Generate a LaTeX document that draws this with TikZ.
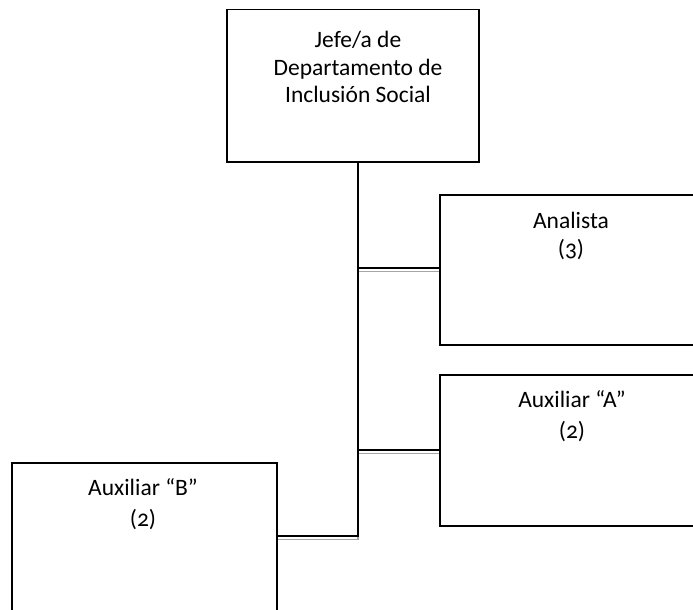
\documentclass[tikz,border=0pt]{standalone}
\usepackage{fontspec}
\setmainfont{Carlito}[Numbers=OldStyle]
\begin{document}
\begin{tikzpicture}[x=1pt,y=-1pt,
  box/.style={draw, line width=1.5pt, inner sep=0pt, anchor=north west},
  lbl/.style={align=center, inner sep=0pt, font=\fontsize{23.5}{27.5}\selectfont},
  lbltwo/.style={align=center, inner sep=0pt, font=\fontsize{23.5}{31.5}\selectfont},
  conn/.style={line width=1.5pt},
  ghost/.style={line width=1.2pt, black!35}]
\useasboundingbox (0,0) rectangle (693,610);
% boxes
\node[box, minimum width=252pt, minimum height=152pt] (jefe) at (226,9) {};
\node[box, minimum width=280pt, minimum height=150pt] (ana) at (439,194) {};
\node[box, minimum width=280pt, minimum height=151pt] (auxa) at (439,374) {};
\node[box, minimum width=265pt, minimum height=170pt] (auxb) at (11,462) {};
% texts
\node[lbl] (tjefe) at (358,67) {Jefe/a de\\Departamento de\\Inclusión Social};
\node[lbl] (tana) at (571,236) {Analista\\(3)};
\node[lbltwo] (tauxa) at (572,416) {Auxiliar “A”\\(2)};
\node[lbltwo] (tauxb) at (143,504) {Auxiliar “B”\\(2)};
% trunk coordinates
\coordinate (t0) at (358,161);
\coordinate (t1) at (358,268);
\coordinate (t2) at (358,450);
\coordinate (t3) at (358,536);
% grey under-lines
\draw[ghost] ([yshift=-3.5pt]t1) -- ([yshift=-3.5pt]ana.west |- t1);
\draw[ghost] ([yshift=-3.5pt]t2) -- ([yshift=-3.5pt]auxa.west |- t2);
\draw[ghost] ([yshift=-3.5pt]auxb.east |- t3) -- ([yshift=-3.5pt]t3) -- (t3);
% connectors
\draw[conn] (t0) -- (t3) -- (auxb.east |- t3);
\draw[conn] (t1) -- (ana.west |- t1);
\draw[conn] (t2) -- (auxa.west |- t2);
\end{tikzpicture}
\end{document}
